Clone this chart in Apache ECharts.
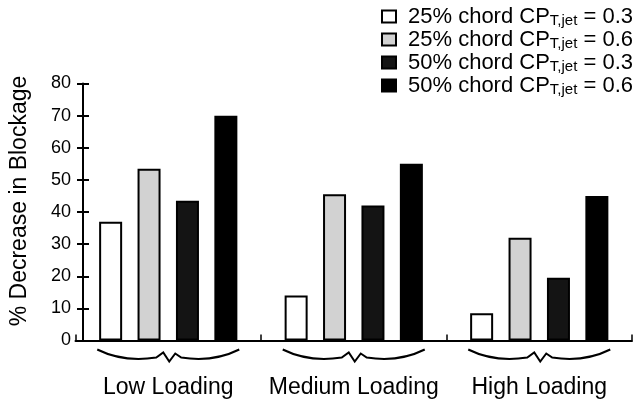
<!DOCTYPE html>
<html>
<head>
<meta charset="utf-8">
<script src="https://cdn.jsdelivr.net/npm/echarts@6/dist/echarts.min.js"></script>
<style>
  html, body { margin: 0; padding: 0; background: #fff; }
  #chart { width: 639px; height: 401px; }
</style>
</head>
<body>
<div id="chart"></div>
<script>
// Loading cases along the x axis
const categories = ['Low Loading', 'Medium Loading', 'High Loading'];

// Series: injector location (25% / 50% chord) and jet thrust coefficient
const seriesNames = [
  '25% chord CP|T,jet| = 0.3',
  '25% chord CP|T,jet| = 0.6',
  '50% chord CP|T,jet| = 0.3',
  '50% chord CP|T,jet| = 0.6'
];
const chord25_cp03 = [37, 14, 8.5];
const chord25_cp06 = [53.5, 45.5, 32];
const chord50_cp03 = [43.5, 42, 19.5];
const chord50_cp06 = [70, 55, 45];
const seriesValues = [chord25_cp03, chord25_cp06, chord50_cp03, chord50_cp06];

// Y axis ticks
const yTicks = [0, 10, 20, 30, 40, 50, 60, 70, 80];

const FONT = '"Liberation Sans", Arial, Helvetica, sans-serif';
const fills = ['#ffffff', '#d2d2d2', '#141414', '#000000'];

const chart = echarts.init(document.getElementById('chart'), null, { renderer: 'canvas' });

const barSeries = seriesNames.map((name, i) => ({
  name: name,
  type: 'bar',
  xAxisIndex: 0,
  yAxisIndex: 0,
  data: seriesValues[i],
  barWidth: 23,
  barGap: '67%',
  itemStyle: { color: fills[i], borderColor: '#000', borderWidth: 2 },
  emphasis: { disabled: true },
  animation: false
}));

// Curly braces grouping the four bars of each loading case
const braceSeries = {
  type: 'custom',
  xAxisIndex: 0,
  yAxisIndex: 0,
  silent: true,
  clip: false,
  animation: false,
  data: categories.map((c, i) => [i, 0]),
  renderItem: function (params, api) {
    const p = api.coord([api.value(0), 0]);
    const cx = p[0];
    const y = p[1] + 9;
    const w = 71;
    const d = [
      'M', cx - w, y,
      'Q', cx - 45, y + 13, cx - 12, y + 8,
      'L', cx - 5, y + 3,
      'L', cx + 1, y + 12,
      'L', cx + 7, y + 4,
      'L', cx + 13, y + 8,
      'Q', cx + 45, y + 13, cx + w, y
    ].join(' ');
    return {
      type: 'path',
      shape: { pathData: d },
      style: { fill: null, stroke: '#000', lineWidth: 2 }
    };
  }
};

// Legend text: "25% chord CP" + subscript "T,jet" + " = 0.3"
const legendFormatter = function (name) {
  const parts = name.split('|');
  return '{p|}{m|' + parts[0] + '}{s|' + parts[1] + '}{m|' + parts[2] + '}';
};

const option = {
  backgroundColor: '#fff',
  animation: false,
  textStyle: { fontFamily: FONT, color: '#000' },
  grid: { left: 74, right: 7, top: 83.5, bottom: 60.5, containLabel: false },
  legend: {
    data: seriesNames,
    orient: 'vertical',
    left: 376,
    top: 0,
    itemWidth: 14,
    itemHeight: 12,
    itemGap: 0,
    icon: 'rect',
    selectedMode: false,
    formatter: legendFormatter,
    textStyle: {
      fontFamily: FONT,
      color: '#000',
      rich: {
        p: { width: 7, lineHeight: 18 },
        m: { fontFamily: FONT, fontSize: 22, color: '#000', lineHeight: 18 },
        s: { fontFamily: FONT, fontSize: 15, color: '#000', lineHeight: 10, padding: [8, 0, 0, 0] }
      }
    }
  },
  xAxis: {
    type: 'category',
    data: categories,
    axisLine: { show: true, lineStyle: { color: '#000', width: 2 } },
    axisTick: { show: true, inside: true, length: 6, lineStyle: { color: '#000', width: 1.5 } },
    axisLabel: { interval: 0, fontFamily: FONT, fontSize: 23, color: '#000', margin: 36 },
    splitLine: { show: false }
  },
  yAxis: [
    {
      type: 'value',
      position: 'left',
      min: yTicks[0],
      max: yTicks[yTicks.length - 1],
      interval: yTicks[1] - yTicks[0],
      offset: -7.5,
      name: '% Decrease in Blockage',
      nameLocation: 'middle',
      nameRotate: 90,
      nameGap: 52,
      nameTextStyle: { fontFamily: FONT, fontSize: 23, color: '#000', padding: [0, 0, 0, 22] },
      axisLine: { show: true, lineStyle: { color: '#000', width: 2 } },
      axisTick: { show: true, inside: false, length: 6, lineStyle: { color: '#000', width: 2 } },
      axisLabel: { fontFamily: FONT, fontSize: 18, color: '#000', margin: 12 },
      splitLine: { show: false }
    },
    {
      type: 'value',
      position: 'left',
      min: yTicks[0],
      max: yTicks[yTicks.length - 1],
      interval: yTicks[1] - yTicks[0],
      offset: -7.5,
      axisLine: { show: false },
      axisTick: { show: true, inside: true, length: 6, lineStyle: { color: '#000', width: 2 } },
      axisLabel: { show: false },
      splitLine: { show: false }
    }
  ],
  series: barSeries.concat([braceSeries])
};

chart.setOption(option);
</script>
</body>
</html>
